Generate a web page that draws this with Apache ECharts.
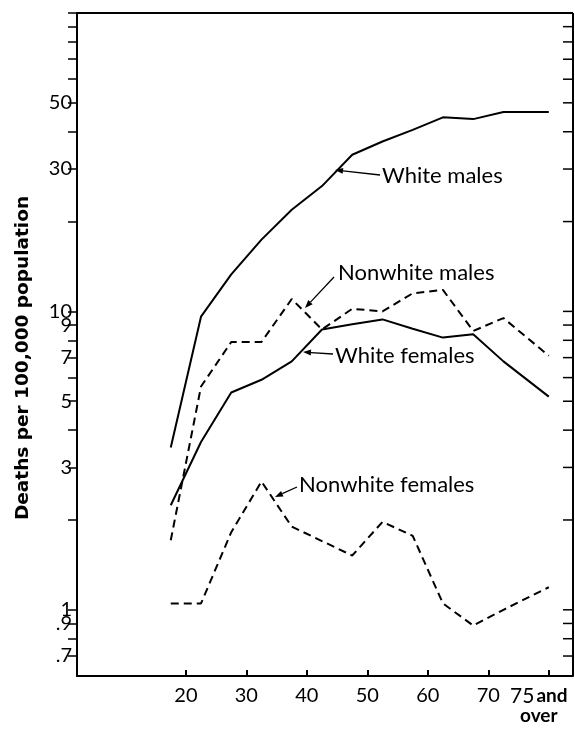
<!DOCTYPE html>
<html>
<head>
<meta charset="utf-8">
<script src="https://cdn.jsdelivr.net/npm/echarts@6/dist/echarts.min.js"></script>
<style>
html, body { margin: 0; padding: 0; background: #fff; }
#chart { width: 575px; height: 729px; }
</style>
</head>
<body>
<div id="chart"></div>
<script>
// age group midpoints, the last one is "75 and over"
var ages = [17.5, 22.5, 27.5, 32.5, 37.5, 42.5, 47.5, 52.5, 57.5, 62.5, 67.5, 72.5, 80];
var whiteMales = [3.5, 9.6, 13.3, 17.4, 21.9, 26.3, 33.5, 37.1, 40.6, 44.7, 44.1, 46.6, 46.6];
var nonwhiteMales = [1.71, 5.6, 7.9, 7.9, 11.0, 8.7, 10.2, 10.0, 11.5, 11.8, 8.6, 9.5, 7.1];
var whiteFemales = [2.24, 3.65, 5.35, 5.9, 6.8, 8.7, 9.05, 9.4, 8.75, 8.17, 8.38, 6.8, 5.18];
var nonwhiteFemales = [1.05, 1.05, 1.82, 2.69, 1.9, 1.7, 1.52, 1.97, 1.77, 1.05, 0.886, 1.0, 1.19];

var xTicks = [20, 30, 40, 50, 60, 70, 80];
var yLabels = [0.7, 0.9, 1, 3, 5, 7, 9, 10, 30, 50];
var yTicks = [0.7, 0.8, 0.9, 1, 2, 3, 4, 5, 6, 7, 8, 9, 10, 20, 30, 40, 50, 60, 70, 80, 90, 100];

var X_MIN = 2, X_MAX = 84, Y_MIN = 0.6, Y_MAX = 100;
var W = 575, H = 729;
var GRID = { left: 77, right: 2, top: 13, bottom: 53 };
var FONT = 'Lato, sans-serif';

function pairs(vals) {
    return ages.map(function (a, i) { return [a, vals[i]]; });
}

// thin line with a small filled head at (x2, y2)
function arrow(x1, y1, x2, y2) {
    var ang = Math.atan2(y2 - y1, x2 - x1);
    var len = 8, w = 3;
    var bx = x2 - len * Math.cos(ang), by = y2 - len * Math.sin(ang);
    var px = -Math.sin(ang) * w, py = Math.cos(ang) * w;
    return [
        { type: 'line', shape: { x1: x1, y1: y1, x2: bx, y2: by }, style: { stroke: '#000', lineWidth: 1.3 } },
        { type: 'polygon', shape: { points: [[x2, y2], [bx + px, by + py], [bx - px, by - py]] }, style: { fill: '#000' } }
    ];
}

function note(text, x, y) {
    return {
        type: 'text', x: x, y: y,
        style: { text: text, font: '22px ' + FONT, fill: '#000', textVerticalAlign: 'middle' }
    };
}

function lineSeries(name, vals, dashed) {
    return {
        name: name,
        type: 'line',
        data: pairs(vals),
        symbol: 'none',
        lineStyle: { color: '#000', width: 2, type: dashed ? [8, 5] : 'solid' },
        animation: false
    };
}

var chart = echarts.init(document.getElementById('chart'));

var graphics = [
    {
        type: 'text', x: 23, y: 358, rotation: Math.PI / 2,
        style: { text: 'Deaths per 100,000 population', font: 'bold 18.5px "DejaVu Sans", sans-serif', fill: '#000', align: 'center', verticalAlign: 'middle' }
    },
    note('White males', 382, 176),
    note('Nonwhite males', 338, 273),
    note('White females', 335, 356),
    note('Nonwhite females', 299, 485)
];
graphics = graphics
    .concat(arrow(380, 175, 335, 170))
    .concat(arrow(334, 277, 305, 308))
    .concat(arrow(333, 354, 303, 352))
    .concat(arrow(297, 487, 275, 497));

chart.setOption({
    backgroundColor: '#fff',
    animation: false,
    grid: { left: GRID.left, right: GRID.right, top: GRID.top, bottom: GRID.bottom, containLabel: false, outerBoundsMode: 'none' },
    xAxis: {
        type: 'value',
        min: X_MIN,
        max: X_MAX,
        name: 'Age',
        nameLocation: 'middle',
        nameGap: 36,
        nameTextStyle: { fontFamily: FONT, fontSize: 22, fontWeight: 'bold', color: '#000', padding: [0, 0, 0, 10] },
        axisLine: { show: true, lineStyle: { color: '#000', width: 2 } },
        axisTick: { inside: true, length: 6, customValues: xTicks, lineStyle: { color: '#000', width: 2 } },
        axisLabel: {
            customValues: xTicks,
            margin: 10,
            fontFamily: FONT, fontSize: 20, color: '#000',
            formatter: function (v) {
                if (v === 80) return '{n|75}{a|and}\n{o|over}';
                return String(v);
            },
            rich: {
                n: { fontFamily: FONT, fontSize: 21, color: '#000', lineHeight: 20 },
                a: { fontFamily: FONT, fontSize: 19, fontWeight: 'bold', color: '#000', padding: [0, 20, 0, 2], lineHeight: 20 },
                o: { fontFamily: FONT, fontSize: 19, fontWeight: 'bold', color: '#000', padding: [0, 20, 0, 0], lineHeight: 20 }
            }
        },
        splitLine: { show: false }
    },
    yAxis: {
        type: 'log',
        logBase: 10,
        min: Y_MIN,
        max: Y_MAX,
        axisLine: { show: true, lineStyle: { color: '#000', width: 2 } },
        axisTick: { show: true, inside: false, length: 9, customValues: yTicks, lineStyle: { color: '#000', width: 1.5 } },
        axisLabel: {
            customValues: yLabels,
            margin: 5,
            fontFamily: FONT, fontSize: 20, color: '#000',
            formatter: function (v) {
                if (v < 1) return '.' + Math.round(v * 10);
                return String(Math.round(v));
            }
        },
        splitLine: { show: false },
        minorTick: { show: false }
    },
    series: [
        lineSeries('White males', whiteMales, false),
        lineSeries('Nonwhite males', nonwhiteMales, true),
        lineSeries('White females', whiteFemales, false),
        lineSeries('Nonwhite females', nonwhiteFemales, true)
    ]
});

// pixel row of a value on the log scale, asked of the chart's own y axis
function yPix(v) {
    var p;
    try {
        p = chart.convertToPixel({ yAxisIndex: 0 }, v);
        if (typeof p === 'number' && isFinite(p) && p >= 0 && p <= H) return p;
    } catch (e) {}
    try {
        var ax = chart.getModel().getComponent('yAxis', 0).axis;
        p = ax.toGlobalCoord(ax.dataToCoord(v));
        if (typeof p === 'number' && isFinite(p) && p >= 0 && p <= H) return p;
    } catch (e) {}
    var top = GRID.top, bot = H - GRID.bottom;
    return bot - (bot - top) * (Math.log(v) - Math.log(Y_MIN)) / (Math.log(Y_MAX) - Math.log(Y_MIN));
}

// top border and right-hand scale of the frame
var xl = GRID.left, xr = W - GRID.right, yt = GRID.top, yb = H - GRID.bottom;
var frame = [
    { type: 'line', z: 10, shape: { x1: xl, y1: yt, x2: xr, y2: yt }, style: { stroke: '#000', lineWidth: 2 } },
    { type: 'line', z: 10, shape: { x1: xr, y1: yt, x2: xr, y2: yb }, style: { stroke: '#000', lineWidth: 2 } }
];
yTicks.forEach(function (v) {
    var y = yPix(v);
    frame.push({ type: 'line', z: 10, shape: { x1: xr - 10, y1: y, x2: xr, y2: y }, style: { stroke: '#000', lineWidth: 1.5 } });
});

chart.setOption({ graphic: graphics.concat(frame) });
</script>
</body>
</html>
